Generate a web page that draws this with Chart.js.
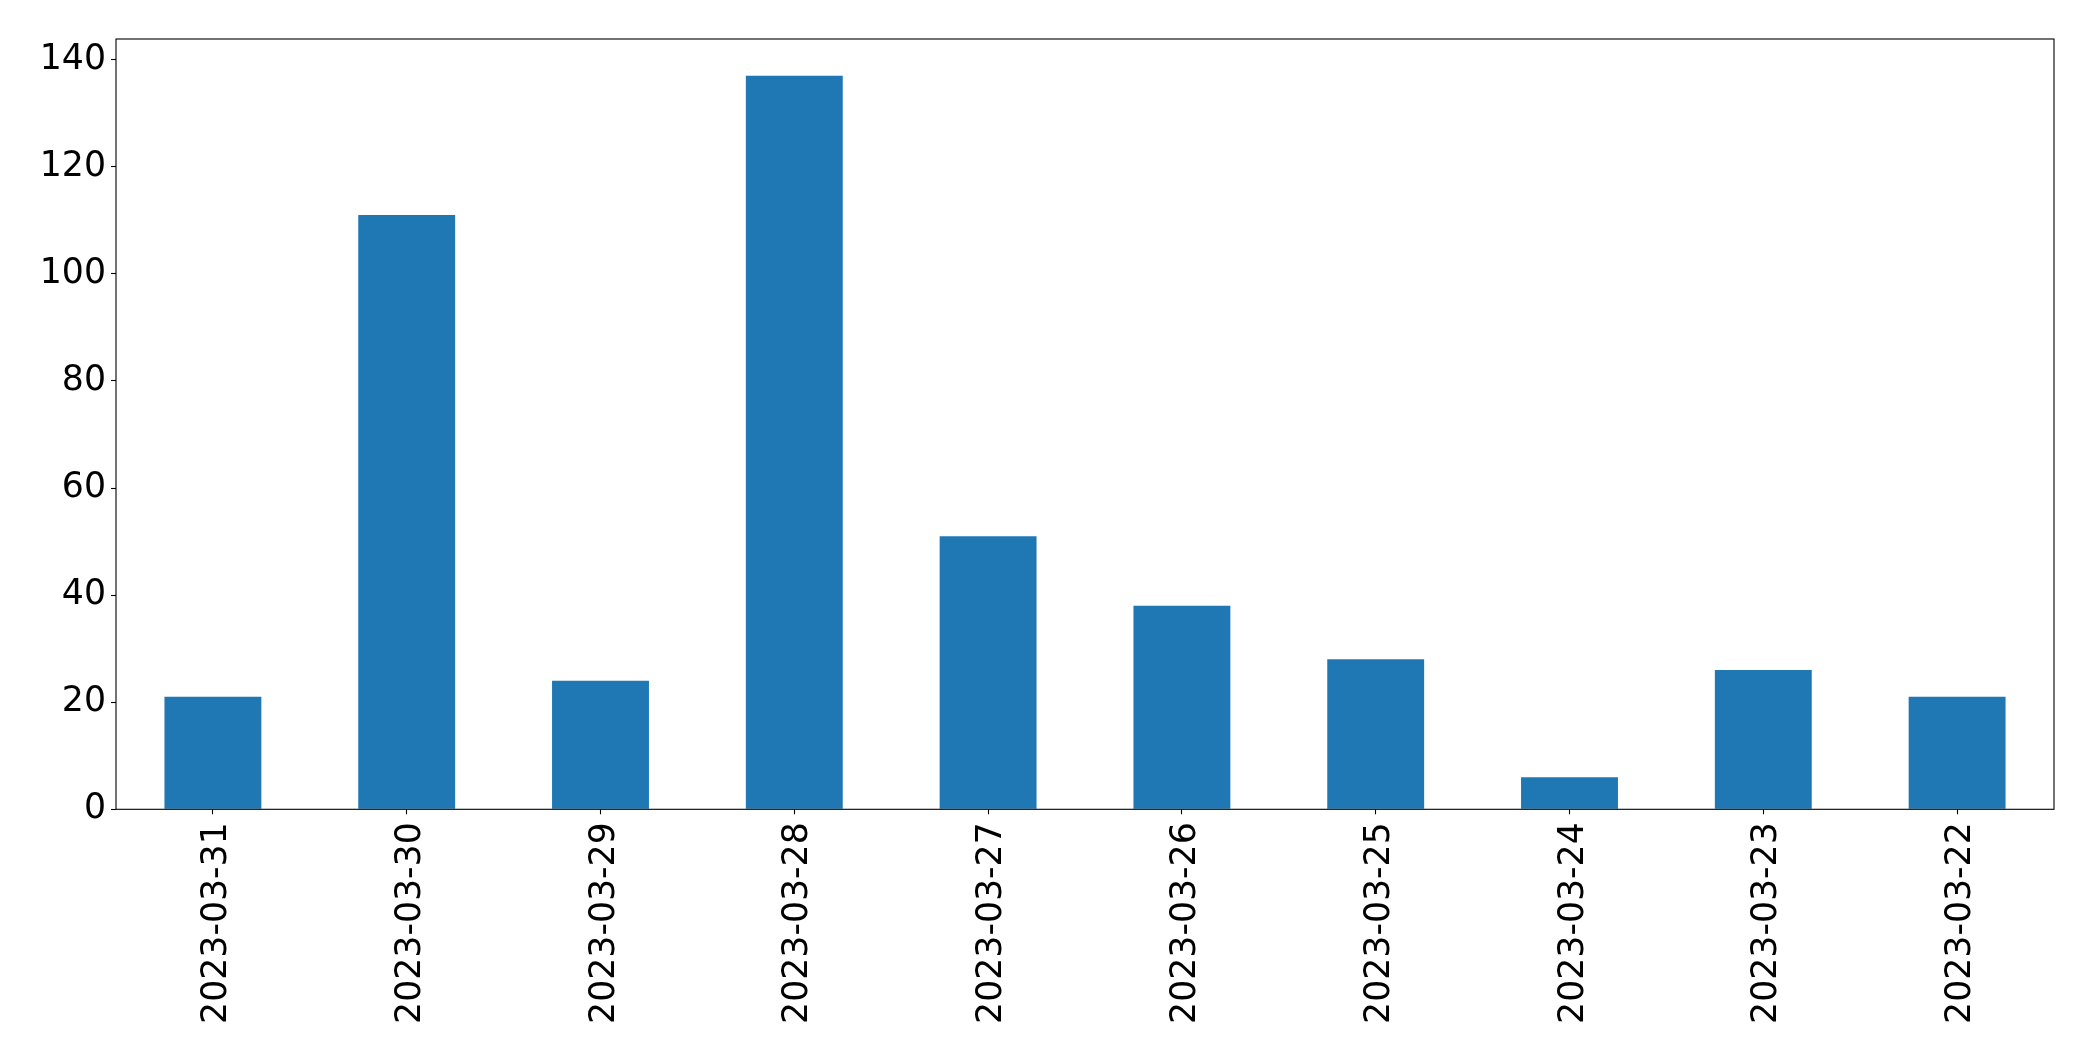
<!DOCTYPE html>
<html>
<head>
<meta charset="utf-8">
<script src="https://cdn.jsdelivr.net/npm/chart.js@4.4.1/dist/chart.umd.min.js"></script>
<style>
  html, body { margin: 0; padding: 0; background: #fff; }
  canvas { display: block; }
</style>
</head>
<body>
<canvas id="dailyChart" width="2093" height="1061"></canvas>
<script>
// data
const dates = ['2023-03-31', '2023-03-30', '2023-03-29', '2023-03-28', '2023-03-27',
               '2023-03-26', '2023-03-25', '2023-03-24', '2023-03-23', '2023-03-22'];
const counts = [21, 111, 24, 137, 51, 38, 28, 6, 26, 21];
const yTicks = [0, 20, 40, 60, 80, 100, 120, 140];

const FONT = { family: 'DejaVu Sans', size: 34.7 };

// box round the plot area, like the matplotlib spines
const frame = {
    id: 'frame',
    afterDatasetsDraw(chart) {
        const a = chart.chartArea;
        const ctx = chart.ctx;
        ctx.save();
        ctx.strokeStyle = '#000';
        ctx.lineWidth = 1.1;
        ctx.strokeRect(a.left, a.top, a.right - a.left, a.bottom - a.top);
        ctx.restore();
    }
};

new Chart(document.getElementById('dailyChart'), {
    type: 'bar',
    data: {
        labels: dates,
        datasets: [{
            data: counts,
            backgroundColor: '#1f77b4',
            categoryPercentage: 1.0,
            barPercentage: 0.5
        }]
    },
    options: {
        responsive: false,
        animation: false,
        devicePixelRatio: 1,
        layout: { padding: { top: 39, right: 39, left: 0, bottom: 0 } },
        plugins: { legend: { display: false }, tooltip: { enabled: false } },
        scales: {
            x: {
                offset: true,
                grid: { offset: false, drawOnChartArea: false, drawTicks: true, tickLength: 5, tickColor: '#000', tickWidth: 1.1 },
                border: { display: false },
                ticks: { color: '#000', font: FONT, minRotation: 90, maxRotation: 90, padding: 8, labelOffset: 4, autoSkip: false },
                afterFit(scale) { scale.height = 251.7; }
            },
            y: {
                min: 0,
                max: Math.max(...counts) * 1.05,
                grid: { drawOnChartArea: false, drawTicks: true, tickLength: 5, tickColor: '#000', tickWidth: 1.1 },
                border: { display: false },
                ticks: { color: '#000', font: FONT, padding: 5, includeBounds: false },
                afterBuildTicks(scale) { scale.ticks = yTicks.map(v => ({ value: v })); },
                afterFit(scale) { scale.width = 116; }
            }
        }
    },
    plugins: [frame]
});
</script>
</body>
</html>
